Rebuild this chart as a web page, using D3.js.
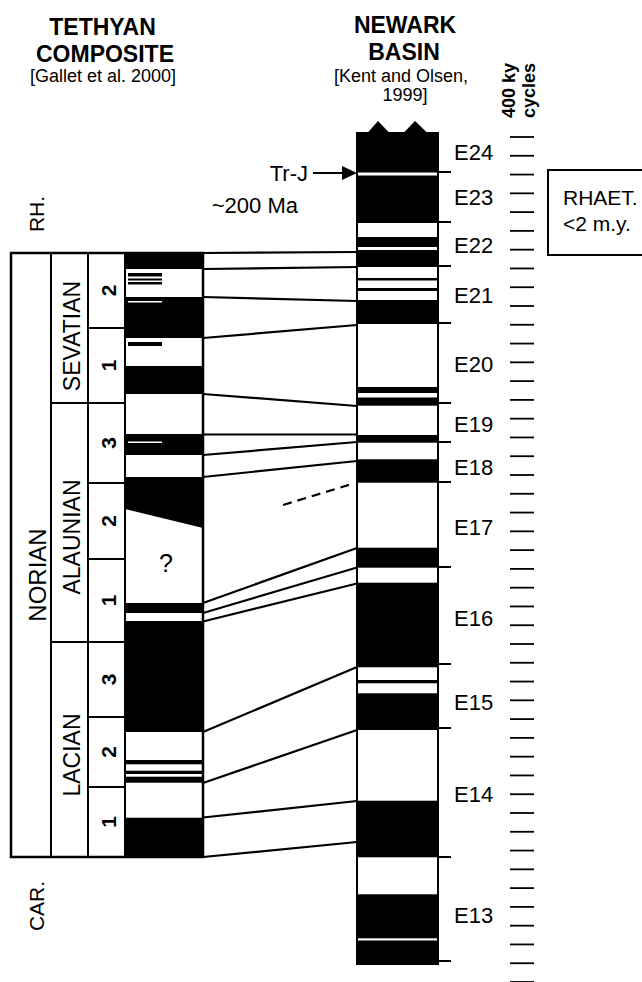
<!DOCTYPE html>
<html><head><meta charset="utf-8">
<script src="https://cdn.jsdelivr.net/npm/d3@7"></script>
<style>
html,body{margin:0;padding:0;background:#fff;}
text{font-family:"Liberation Sans",Arial,Helvetica,sans-serif;fill:#000;}
</style>
</head><body>
<svg id="chart" width="642" height="982"></svg>
<script>
// ---------------- DATA (stratigraphic levels, arbitrary units from top) ----------------
// Tethyan composite (Gallet et al. 2000)
const tethyanTop = 153, tethyanBase = 757;
const tethyanNormal = [[153,169],[197,238],[266,294],[334,355],[503,513],[521,632],[660,664.3],[670.7,674],[676.7,682.7],[717.7,757]];
const tethyanSlantNormal = [377, 409, 428];          // top, base (left), base (right)
const tethyanShortNormal = [[173,176.5],[178.5,180.5],[182,184.5],[242,246]];
const tethyanShortReverse = [[201,202.5],[341.5,343]];
const tethyanQuery = 462;

// Stages / substages
const stageName = "NORIAN", stageLabelLevel = 475;
const substages = ["SEVATIAN","ALAUNIAN","LACIAN"];
const substageBounds = [153,303,542,757];
const substageLabelLevel = [236,437,655];
const zoneNums = ["2","1","3","2","1","3","2","1"];
const zoneBounds = [153,228,303,383,459,542,617,687,757];
const outerLabels = ["RH.","CAR."];
const outerLabelLevel = [114,806];

// Newark basin (Kent and Olsen 1999)
const newarkTop = 33, newarkBase = 864, newarkPeak = 21;
const newarkNormal = [[33,72.5],[75.5,123],[137,147],[150,167],[178,180.5],[188,191],[200,224],[287,293],[297.5,305.7],[335,342.7],[359.3,382.7],[447.7,467.7],[482.7,567.3],[580,583.3],[593.3,630],[700.7,757.3],[794.3,838.3],[840.5,864]];
const cycleNames = ["E24","E23","E22","E21","E20","E19","E18","E17","E16","E15","E14","E13"];
const cycleLabelLevel = [60,105,153,203,272,332,375,435,526,610,702,823];
const cycleBounds = [72,122,166,223,303,342,382,467,564,628,757,861];
const kyCycleCount = 46, kyFirst = 37, kyLast = 882;

// Correlation ties (Tethyan level -> Newark level)
const tiesTethyan = [153,169,197,238,294,334.5,355,377,503,513,521.5,632,683,717.5,757];
const tiesNewark  = [152,167,201,225,306,334.5,342,361,448,467.5,483.5,567,630,701,742];
const tieDashed = [405,384];

// Tr-J boundary and Rhaetian
const trjLevel = 73;
const trjText = ["Tr-J","~200 Ma"];
const rhaetSpan = [70,155];
const rhaetText = ["RHAET.","<2 m.y."];

// Titles
const titleLeft = ["TETHYAN","COMPOSITE"], citeLeft = ["[Gallet et al. 2000]"];
const titleRight = ["NEWARK","BASIN"], citeRight = ["[Kent and Olsen,","1999]"];
const kyTitle = ["400 ky","cycles"];

// ---------------- LAYOUT ----------------
const svg = d3.select("#chart");
const y = d3.scaleLinear().domain([0,882]).range([100,982]);
const X = {boxL:11, stageL:51, numL:88, tethL:125, tethR:203, newL:357, newR:438, bndR:451, lblL:454, tickL:510, tickR:534};
const K = "#000";

svg.append("rect").attr("width",642).attr("height",982).attr("fill","#fff");

// Titles
const tl = svg.append("g").attr("text-anchor","middle");
tl.append("text").attr("x",102.5).attr("y",35).attr("font-size",23).attr("font-weight","bold").text(titleLeft[0]);
tl.append("text").attr("x",105).attr("y",62).attr("font-size",23).attr("font-weight","bold").text(titleLeft[1]);
tl.append("text").attr("x",103).attr("y",82).attr("font-size",18).text(citeLeft[0]);
tl.append("text").attr("x",405).attr("y",33).attr("font-size",23).attr("font-weight","bold").text(titleRight[0]);
tl.append("text").attr("x",404).attr("y",60).attr("font-size",23).attr("font-weight","bold").text(titleRight[1]);
tl.append("text").attr("x",401).attr("y",82).attr("font-size",18).text(citeRight[0]);
tl.append("text").attr("x",405).attr("y",101).attr("font-size",18).text(citeRight[1]);
svg.append("text").attr("transform","translate(515,118) rotate(-90)").attr("font-size",18).attr("font-weight","bold").text(kyTitle[0]);
svg.append("text").attr("transform","translate(535,118) rotate(-90)").attr("font-size",18).attr("font-weight","bold").text(kyTitle[1]);

// ---- Tethyan column ----
const tw = X.tethR - X.tethL;
svg.append("rect").attr("x",X.tethL).attr("y",y(tethyanTop)).attr("width",tw).attr("height",y(tethyanBase)-y(tethyanTop)).attr("fill","#fff");
svg.append("g").selectAll("rect").data(tethyanNormal).join("rect")
  .attr("x",X.tethL).attr("width",tw).attr("y",d=>y(d[0])).attr("height",d=>y(d[1])-y(d[0])).attr("fill",K);
svg.append("path").attr("fill",K)
  .attr("d",`M${X.tethL},${y(tethyanSlantNormal[0])}L${X.tethR},${y(tethyanSlantNormal[0])}L${X.tethR},${y(tethyanSlantNormal[2])}L${X.tethL},${y(tethyanSlantNormal[1])}Z`);
svg.append("g").selectAll("rect").data(tethyanShortNormal).join("rect")
  .attr("x",X.tethL+3).attr("width",34).attr("y",d=>y(d[0])).attr("height",d=>y(d[1])-y(d[0])).attr("fill",K);
svg.append("g").selectAll("rect").data(tethyanShortReverse).join("rect")
  .attr("x",X.tethL+3).attr("width",34).attr("y",d=>y(d[0])).attr("height",d=>y(d[1])-y(d[0])).attr("fill","#fff");
svg.append("text").attr("x",(X.tethL+X.tethR)/2+2).attr("y",y(tethyanQuery)+10).attr("text-anchor","middle").attr("font-size",25).text("?");

// ---- Box frame ----
const fr = svg.append("g").attr("stroke",K).attr("fill","none");
fr.append("rect").attr("x",X.boxL).attr("y",y(tethyanTop)).attr("width",X.tethR-X.boxL).attr("height",y(tethyanBase)-y(tethyanTop)).attr("stroke-width",2.5);
[X.stageL,X.numL,X.tethL].forEach(xx=>fr.append("line").attr("x1",xx).attr("x2",xx).attr("y1",y(tethyanTop)).attr("y2",y(tethyanBase)).attr("stroke-width",2));
substageBounds.slice(1,-1).forEach(b=>fr.append("line").attr("x1",X.stageL).attr("x2",X.tethL).attr("y1",y(b)).attr("y2",y(b)).attr("stroke-width",2));
zoneBounds.forEach(b=>{ if(!substageBounds.includes(b)) fr.append("line").attr("x1",X.numL).attr("x2",X.tethL).attr("y1",y(b)).attr("y2",y(b)).attr("stroke-width",2);});

// rotated labels
function rot(x, lvl, txt, size, weight){
  svg.append("text").attr("transform",`translate(${x},${y(lvl)}) rotate(-90)`)
    .attr("text-anchor","middle").attr("dy","0.36em").attr("font-size",size).attr("font-weight",weight||"normal").text(txt);
}
rot(37.5, stageLabelLevel, stageName, 24);
substages.forEach((s,i)=>rot(71.5, substageLabelLevel[i], s, 23));
zoneNums.forEach((n,i)=>rot(108.5, (zoneBounds[i]+zoneBounds[i+1])/2, n, 21, "bold"));
outerLabels.forEach((s,i)=>rot(36, outerLabelLevel[i], s, 21));

// ---- Correlation ties ----
const ties = svg.append("g").attr("stroke",K).attr("stroke-width",2.2);
tiesTethyan.forEach((t,i)=>ties.append("line").attr("x1",X.tethR).attr("y1",y(t)).attr("x2",X.newL).attr("y2",y(tiesNewark[i])));
ties.append("line").attr("x1",283).attr("y1",y(tieDashed[0])).attr("x2",352).attr("y2",y(tieDashed[1])).attr("stroke-dasharray","9,6");

// ---- Newark column ----
const nw = X.newR - X.newL;
svg.append("rect").attr("x",X.newL).attr("y",y(newarkTop)).attr("width",nw).attr("height",y(newarkBase)-y(newarkTop)).attr("fill","#fff").attr("stroke",K).attr("stroke-width",2);
svg.append("g").selectAll("rect").data(newarkNormal).join("rect")
  .attr("x",X.newL-1).attr("width",nw+2).attr("y",d=>y(d[0])).attr("height",d=>y(d[1])-y(d[0])).attr("fill",K);
[[367,378,390],[403,415,428]].forEach(p=>{
  svg.append("path").attr("fill",K).attr("d",`M${p[0]},${y(newarkTop)+0.5}L${p[1]},${y(newarkPeak)}L${p[2]},${y(newarkTop)+0.5}Z`);
});
const bnd = svg.append("g").attr("stroke",K).attr("stroke-width",2);
cycleBounds.forEach(b=>bnd.append("line").attr("x1",X.newR).attr("x2",X.bndR).attr("y1",y(b)).attr("y2",y(b)));
svg.append("g").selectAll("text").data(cycleNames).join("text")
  .attr("x",X.lblL).attr("y",(d,i)=>y(cycleLabelLevel[i])).attr("font-size",22).text(d=>d);

// 400 ky ticks
const ky = d3.scaleLinear().domain([0,kyCycleCount-1]).range([y(kyFirst),y(kyLast)]);
svg.append("g").attr("stroke",K).attr("stroke-width",1.8).selectAll("line").data(d3.range(kyCycleCount)).join("line")
  .attr("x1",X.tickL).attr("x2",X.tickR).attr("y1",d=>ky(d)).attr("y2",d=>ky(d));

// Tr-J arrow
const ty = y(trjLevel);
svg.append("line").attr("x1",313).attr("x2",344).attr("y1",ty).attr("y2",ty).attr("stroke",K).attr("stroke-width",2);
svg.append("path").attr("fill",K).attr("d",`M${X.newL},${ty}L342,${ty-7}L342,${ty+7}Z`);
svg.append("text").attr("x",308).attr("y",ty+8).attr("text-anchor","end").attr("font-size",22).text(trjText[0]);
svg.append("text").attr("x",298).attr("y",ty+40).attr("text-anchor","end").attr("font-size",22).text(trjText[1]);

// Rhaetian box (open to the right, runs off the page)
svg.append("path").attr("fill","none").attr("stroke",K).attr("stroke-width",2)
  .attr("d",`M700,${y(rhaetSpan[0])}H548V${y(rhaetSpan[1])}H700`);
svg.append("text").attr("x",563).attr("y",205).attr("font-size",21).text(rhaetText[0]);
svg.append("text").attr("x",563).attr("y",231).attr("font-size",21).text(rhaetText[1]);
</script>
</body></html>
